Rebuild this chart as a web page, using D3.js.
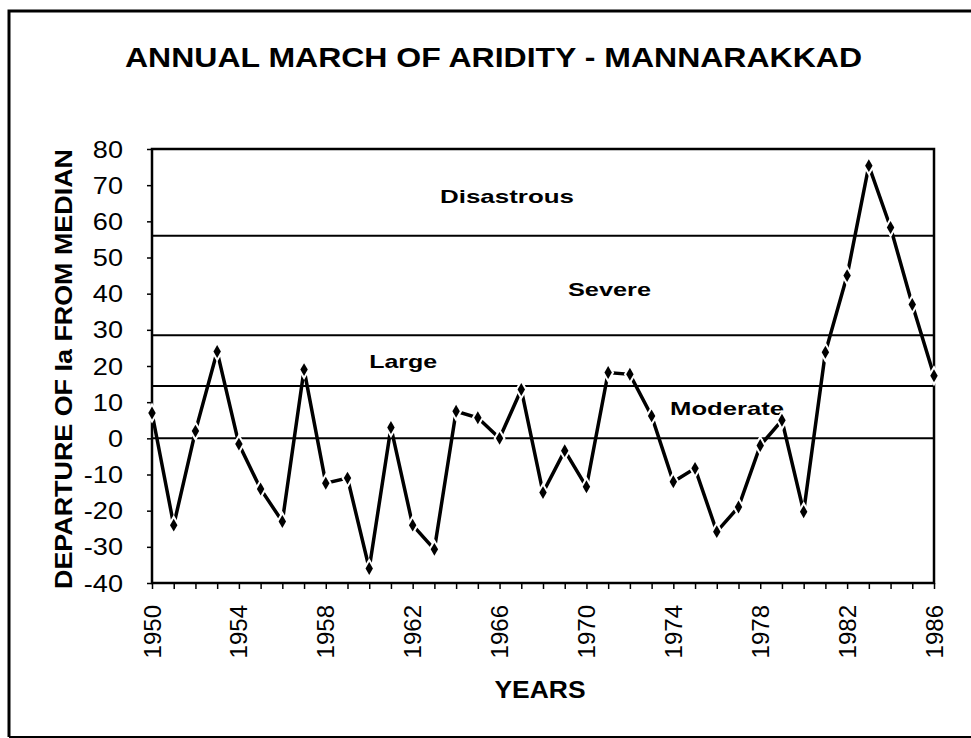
<!DOCTYPE html>
<html>
<head>
<meta charset="utf-8">
<script src="https://cdn.jsdelivr.net/npm/d3@7"></script>
<style>
  body { margin: 0; background: #fff; }
  svg { display: block; }
  text { font-family: "Liberation Sans", Arial, sans-serif; fill: #000; }
</style>
</head>
<body>
<svg id="chart" width="971" height="738"></svg>
<script>
// ---- data ----
const years = [1950,1951,1952,1953,1954,1955,1956,1957,1958,1959,1960,1961,1962,1963,1964,1965,1966,1967,1968,1969,1970,1971,1972,1973,1974,1975,1976,1977,1978,1979,1980,1981,1982,1983,1984,1985,1986];
const departure = [7,-24,2,24,-1.6,-14,-23,19,-12.4,-11,-36,3,-24,-30.7,7.5,5.7,0,13.5,-15,-3.4,-13.4,18.2,17.7,6.2,-12,-8.3,-25.8,-19,-2,5,-20.3,23.8,45,75.4,58.3,37,17.3];
const yTicks = [80,70,60,50,40,30,20,10,0,-10,-20,-30,-40];
const xTickLabels = [1950,1954,1958,1962,1966,1970,1974,1978,1982,1986];
const levelLines = [56, 28.5, 14.5, 0];
const levelNames = ["Disastrous", "Severe", "Large", "Moderate"];
const levelLabelYear = [1963.26, 1969.15, 1960.0, 1973.85];
const levelLabelValue = [65.1, 39.4, 19.4, 6.4];
const title = "ANNUAL MARCH OF ARIDITY - MANNARAKKAD";
const yTitle = "DEPARTURE OF Ia FROM MEDIAN";
const xTitle = "YEARS";

// ---- layout ----
const svg = d3.select("#chart");
const L = 152, R = 934, T = 149, B = 583;
const x = d3.scaleLinear().domain([1950, 1986]).range([L, R]);
const y = d3.scaleLinear().domain([-40, 80]).range([B, T]);

// outer frame
svg.append("path")
  .attr("d", `M9,737 L9,11 L975,11`)
  .attr("fill", "none").attr("stroke", "#000").attr("stroke-width", 3);
svg.append("line").attr("x1", 9).attr("x2", 975).attr("y1", 737).attr("y2", 737)
  .attr("stroke", "#000").attr("stroke-width", 2);

// title
svg.append("text").attr("x", 493.5).attr("y", 67).attr("text-anchor", "middle")
  .attr("font-size", 28).attr("font-weight", "bold")
  .attr("textLength", 737).attr("lengthAdjust", "spacingAndGlyphs")
  .text(title);

// level lines
svg.selectAll("line.level").data(levelLines).enter().append("line")
  .attr("class", "level")
  .attr("x1", L).attr("x2", R)
  .attr("y1", d => y(d)).attr("y2", d => y(d))
  .attr("stroke", "#000").attr("stroke-width", 2);

// level labels
const lvlLengths = [134, 83, 68, 114];
svg.selectAll("text.lvl").data(levelNames).enter().append("text")
  .attr("class", "lvl")
  .attr("x", (d, i) => x(levelLabelYear[i]))
  .attr("y", (d, i) => y(levelLabelValue[i]))
  .attr("font-size", 19).attr("font-weight", "bold")
  .attr("textLength", (d, i) => lvlLengths[i])
  .attr("lengthAdjust", "spacingAndGlyphs")
  .text(d => d);

// axes
const yAxis = d3.axisLeft(y).tickValues(yTicks).tickSize(5).tickFormat("");
const gy = svg.append("g").attr("transform", `translate(${L},0)`).call(yAxis);
gy.select(".domain").remove();
gy.selectAll(".tick line").attr("stroke-width", 1.5);

svg.selectAll("text.ylab").data(yTicks).enter().append("text")
  .attr("class", "ylab")
  .attr("transform", d => `translate(123,${y(d) + 8.5}) scale(1.13,1)`)
  .attr("text-anchor", "end").attr("font-size", 24)
  .text(d => d);

const xAxis = d3.axisBottom(x).tickValues(years).tickSize(6).tickFormat("");
const gx = svg.append("g").attr("transform", `translate(0,${B})`).call(xAxis);
gx.select(".domain").remove();
gx.selectAll(".tick line").attr("stroke-width", 1.5);

svg.selectAll("text.xlab").data(xTickLabels).enter().append("text")
  .attr("class", "xlab")
  .attr("transform", d => `translate(${x(d) + 8.5},605) rotate(-90)`)
  .attr("text-anchor", "end").attr("font-size", 24)
  .text(d => d);

// plot frame
svg.append("rect").attr("x", L).attr("y", T).attr("width", R - L).attr("height", B - T)
  .attr("fill", "none").attr("stroke", "#000").attr("stroke-width", 2.5);

// series line
const line = d3.line().x((d, i) => x(years[i])).y(d => y(d));
svg.append("path").datum(departure)
  .attr("d", line).attr("fill", "none")
  .attr("stroke", "#000").attr("stroke-width", 3.5).attr("stroke-linejoin", "miter");

// markers
const sym = d3.symbol().type(d3.symbolDiamond).size(48);
svg.selectAll("path.mk").data(departure).enter().append("path")
  .attr("class", "mk")
  .attr("transform", (d, i) => `translate(${x(years[i])},${y(d)})`)
  .attr("d", sym).attr("fill", "#000")
  .attr("stroke", "#fff").attr("stroke-width", 4).attr("paint-order", "stroke");

// axis titles
svg.append("text")
  .attr("transform", `translate(72,${(T + B) / 2 + 3}) rotate(-90)`)
  .attr("text-anchor", "middle").attr("font-size", 23).attr("font-weight", "bold")
  .attr("textLength", 440).attr("lengthAdjust", "spacingAndGlyphs")
  .text(yTitle);
svg.append("text").attr("x", 540).attr("y", 698).attr("text-anchor", "middle")
  .attr("font-size", 23).attr("font-weight", "bold")
  .attr("textLength", 91).attr("lengthAdjust", "spacingAndGlyphs")
  .text(xTitle);
</script>
</body>
</html>
